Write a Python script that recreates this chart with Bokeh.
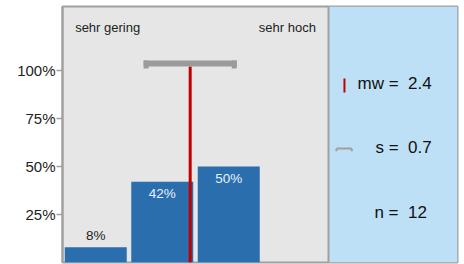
from bokeh.plotting import figure
from bokeh.models import (Range1d, FixedTicker, NumeralTickFormatter, BoxAnnotation,
                          Span, ColumnDataSource)
from bokeh.core.properties import value
from bokeh.embed import file_html
from bokeh.resources import INLINE

# ---- data ----
categories = ["sehr gering", "gering", "hoch", "sehr hoch"]
positions = [1, 2, 3, 4]
shares = [0.08, 0.42, 0.50, 0.0]
mean_value = 2.42
sd_value = 0.70
n_value = 12
y_ticks = [0.25, 0.50, 0.75, 1.00]
stats_labels = ["mw =\u00a0 2.4", "s =\u00a0 0.7", "n =\u00a0 12"]

FONT = "Liberation Sans"
BAR = "#2a6ead"
GREY = "#a0a0a0"
RED = "#c00000"

px_per_unit_x = 66.5
px_per_unit_y = 48 / 0.25
frame_w, frame_h = 395, 256
x0 = 0.5
x1 = x0 + frame_w / px_per_unit_x
y1 = frame_h / px_per_unit_y

p = figure(frame_width=frame_w, frame_height=frame_h, output_backend="svg",
           toolbar_location=None, x_range=Range1d(x0, x1), y_range=Range1d(0, y1),
           min_border_left=62, min_border_right=7, min_border_top=6, min_border_bottom=2)
p.background_fill_color = "#e6e6e6"
p.border_fill_color = "white"
p.outline_line_color = GREY
p.outline_line_width = 2
p.grid.visible = False
p.xaxis.visible = False

ya = p.yaxis[0]
ya.ticker = FixedTicker(ticks=y_ticks)
ya.formatter = NumeralTickFormatter(format="0%")
ya.axis_line_color = GREY
ya.axis_line_width = 2
ya.major_tick_line_color = GREY
ya.major_tick_line_width = 1.5
ya.major_tick_out = 6
ya.major_tick_in = 0
ya.minor_tick_line_color = None
ya.major_label_text_font = FONT
ya.major_label_text_font_size = "15px"
ya.major_label_text_color = "#222222"
ya.major_label_standoff = 1

# right info panel
split = len(categories) + 0.5
p.add_layout(BoxAnnotation(left=split, fill_color="#bde0f6", fill_alpha=1,
                           line_color=None, level="underlay"))
p.add_layout(Span(location=split, dimension="height", line_color=GREY, line_width=2))

# bars
src = ColumnDataSource(dict(x=positions, top=shares))
p.vbar(x="x", top="top", width=62 / px_per_unit_x, bottom=0, source=src,
       fill_color=BAR, line_color=None)

# bar labels
small = [i for i, v in enumerate(shares) if 0 < v < 0.2]
big = [i for i, v in enumerate(shares) if v >= 0.2]
p.text(x=[positions[i] for i in small], y=[shares[i] for i in small],
       text=[f"{round(shares[i]*100)}%" for i in small],
       text_font=value(FONT), text_font_size="13.5px", text_color="#222222",
       text_align="center", text_baseline="bottom", y_offset=-4)
p.text(x=[positions[i] for i in big], y=[shares[i] for i in big],
       text=[f"{round(shares[i]*100)}%" for i in big],
       text_font=value(FONT), text_font_size="13.5px", text_color="#e8f1fb",
       text_align="center", text_baseline="top", y_offset=4)

# category end labels
p.text(x=[positions[0] - 0.31], y=[1.224], text=[categories[0]],
       text_font=value(FONT), text_font_size="13px", text_color="#222222",
       text_align="left", text_baseline="middle")
p.text(x=[positions[-1] + 0.31], y=[1.224], text=[categories[-1]],
       text_font=value(FONT), text_font_size="13px", text_color="#222222",
       text_align="right", text_baseline="middle")

# std bar and mean line
bar_bottom = 1.021
bar_top = 1.052
cap_bottom = 1.010
cap_w = 5 / px_per_unit_x
lo, hi = mean_value - sd_value, mean_value + sd_value
p.segment(x0=[mean_value], y0=[0], x1=[mean_value], y1=[bar_bottom],
          line_color=RED, line_width=3)
p.quad(left=[lo], right=[hi], bottom=[bar_bottom], top=[bar_top],
       fill_color="#9b9b9b", line_color=None)
p.quad(left=[lo, hi - cap_w], right=[lo + cap_w, hi], bottom=[cap_bottom, cap_bottom],
       top=[bar_top, bar_top], fill_color="#9b9b9b", line_color=None)

# info panel texts
stat_x = [4.936, 5.207, 5.19]
stat_y = [0.932, 0.599, 0.260]
p.text(x=stat_x, y=stat_y, text=stats_labels, text_font=value(FONT),
       text_font_size="17px", text_color="#111111", text_align="left",
       text_baseline="middle")
# legend icons
p.segment(x0=[4.74], y0=[0.885], x1=[4.74], y1=[0.958], line_color=RED, line_width=2)
p.segment(x0=[4.62], y0=[0.594], x1=[4.85], y1=[0.594], line_color=GREY, line_width=2)
p.segment(x0=[4.62, 4.85], y0=[0.594, 0.594], x1=[4.62, 4.85], y1=[0.580, 0.580],
          line_color=GREY, line_width=2)

open("out.html", "w").write(file_html(p, INLINE))
